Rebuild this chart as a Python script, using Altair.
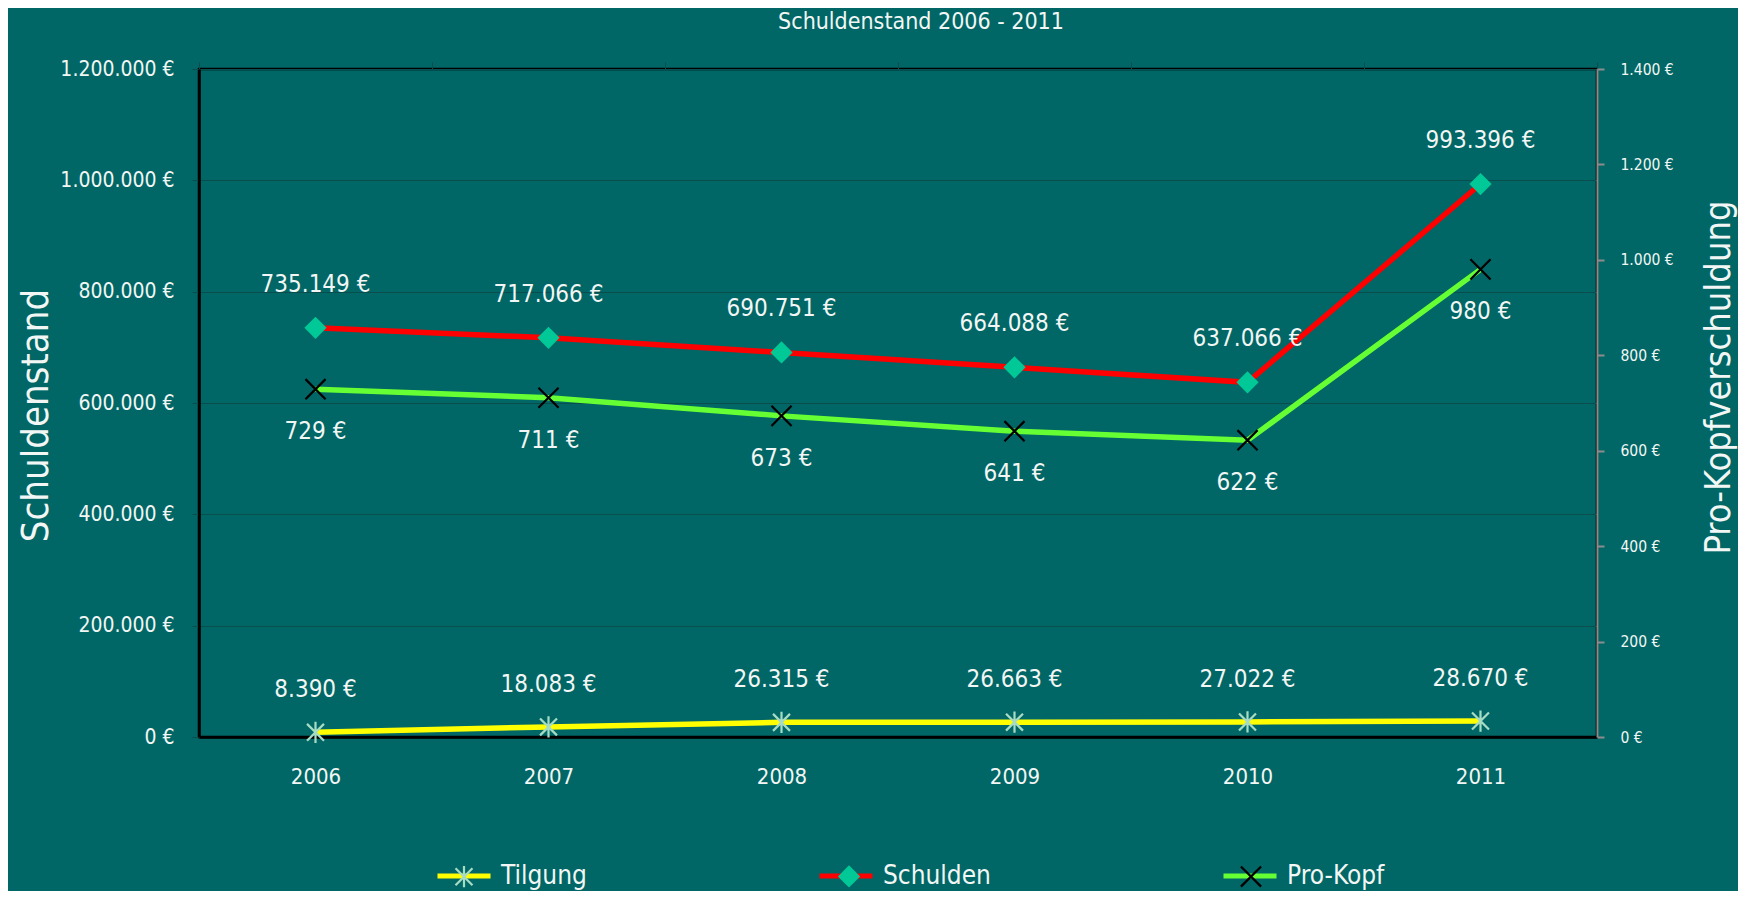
import math
import altair as alt
import pandas as pd

# ---------------- data ----------------
years = [2006, 2007, 2008, 2009, 2010, 2011]
tilgung = [8390, 18083, 26315, 26663, 27022, 28670]
schulden = [735149, 717066, 690751, 664088, 637066, 993396]
pro_kopf = [729, 711, 673, 641, 622, 980]

series_names = ["Tilgung", "Schulden", "Pro-Kopf"]
line_colors = ["#ffff00", "#ff0000", "#66ff33"]
marker_colors = ["#a6dcc4", "#00c896", "#000000"]

left_ticks = [0, 200000, 400000, 600000, 800000, 1000000, 1200000]
right_ticks = [0, 200, 400, 600, 800, 1000, 1200, 1400]
x_tick_bounds = [2005.5, 2006.5, 2007.5, 2008.5, 2009.5, 2010.5, 2011.5]

title_text = "Schuldenstand 2006 - 2011"
left_title = "Schuldenstand"
right_title = "Pro-Kopfverschuldung"


def eur(v):
    return f"{v:,}".replace(",", ".") + " €"


rows_left = []
for name, vals in [("Tilgung", tilgung), ("Schulden", schulden)]:
    for y, v in zip(years, vals):
        rows_left.append({"year": y, "series": name, "value": v, "label": eur(v)})
df_left = pd.DataFrame(rows_left)

df_right = pd.DataFrame(
    [{"year": y, "series": "Pro-Kopf", "value": v, "label": eur(v)} for y, v in zip(years, pro_kopf)]
)

# ---------------- style ----------------
BG = "#006666"
GRID = "#0a4d4d"
TXT = "#f2f6f4"
FONT = "DejaVu Sans Condensed, Liberation Sans Narrow, Liberation Sans, sans-serif"
SYM = 2809  # symbol box size (53px)
UNIT = math.sqrt(SYM) / 2
LEG_FS = 26
# rendered legend label widths (px) for the layout of the marker legend
label_px = [83.5, 100.5, 97]


def bar(x1, y1, x2, y2, t):
    dx, dy = x2 - x1, y2 - y1
    L = math.hypot(dx, dy)
    px, py = -dy / L * t, dx / L * t
    pts = [(x1 + px, y1 + py), (x2 + px, y2 + py), (x2 - px, y2 - py), (x1 - px, y1 - py)]
    return "M" + "L".join(f"{a:.3f},{b:.3f}" for a, b in pts) + "Z"


t = 0.042
asterisk = bar(0, -0.4, 0, 0.4, t) + bar(-0.32, -0.32, 0.32, 0.32, t) + bar(-0.32, 0.32, 0.32, -0.32, t)
diamond = "M0,-0.42L0.42,0L0,0.42L-0.42,0Z"
cross = bar(-0.38, -0.38, 0.38, 0.38, t) + bar(-0.38, 0.38, 0.38, -0.38, t)


def with_extent(path, w):
    # invisible move-to points so the marker legend entry spans the same width
    # as the line legend entry (line symbol + label)
    right = (32 + w) / UNIT
    return f"M-1,0M{right:.3f},0" + path


marker_paths = [with_extent(p, w) for p, w in zip([asterisk, diamond, cross], label_px)]

legend_common = dict(
    orient="none",
    legendX=236,
    legendY=778,
    direction="horizontal",
    title=None,
    symbolSize=SYM,
    symbolStrokeWidth=5,
    labelFont=FONT,
    labelFontSize=LEG_FS,
    labelColor=TXT,
    labelOffset=8,
    columnPadding=222,
    padding=0,
)
legend_lines = alt.Legend(symbolType="stroke", **legend_common)
legend_marks = alt.Legend(symbolStrokeColor="transparent", labelExpr="''", **legend_common)

xscale = alt.Scale(domain=[2005.5, 2011.5], nice=False, zero=False)
x_labels = alt.X(
    "year:Q",
    scale=xscale,
    axis=alt.Axis(
        values=years, format="d", ticks=False, grid=False, title=None,
        labelFont=FONT, labelFontSize=22, labelColor=TXT, labelPadding=29,
        domainColor="#000000", domainWidth=2.5,
    ),
)
x_ticks = alt.X(
    "year:Q",
    scale=xscale,
    axis=alt.Axis(
        values=x_tick_bounds, labels=False, ticks=True, tickSize=7, tickColor=GRID,
        tickWidth=1, domain=False, grid=False, title=None,
    ),
)

label_expr = "replace(format(datum.value, ','), regexp(',', 'g'), '.') + ' €'"

y_left = alt.Y(
    "value:Q",
    scale=alt.Scale(domain=[0, 1200000], nice=False, zero=True),
    axis=alt.Axis(
        values=left_ticks, labelExpr=label_expr, labelFont=FONT, labelFontSize=21,
        labelColor=TXT, labelPadding=18, tickSize=7, tickColor=GRID,
        domainColor="#000000", domainWidth=2.5, grid=True, gridColor=GRID, gridWidth=1.2,
        title=left_title, titleFont=FONT, titleFontSize=38, titleFontWeight="normal",
        titleColor=TXT, titleAngle=270, titleX=-163, titleY=346,
        titleBaseline="middle", titleAlign="center",
    ),
)
y_right = alt.Y(
    "value:Q",
    scale=alt.Scale(domain=[0, 1400], nice=False, zero=True),
    axis=alt.Axis(
        orient="right", values=right_ticks, labelExpr=label_expr, labelFont=FONT,
        labelFontSize=15.5, labelColor=TXT, labelPadding=16, tickSize=7,
        tickColor="#8c8c8c", tickWidth=2, domainColor="#8c8c8c", domainWidth=2, grid=False,
        title=right_title, titleFont=FONT, titleFontSize=36, titleFontWeight="normal",
        titleColor=TXT, titleAngle=270, titleX=121, titleY=308,
        titleBaseline="middle", titleAlign="center",
    ),
)

stroke_enc = alt.Stroke(
    "series:N", sort=series_names, scale=alt.Scale(range=line_colors), legend=legend_lines
)
color_enc = alt.Color(
    "series:N", scale=alt.Scale(domain=series_names, range=marker_colors), legend=legend_marks
)
shape_enc = alt.Shape(
    "series:N", scale=alt.Scale(domain=series_names, range=marker_paths), legend=legend_marks
)


def text_layer(name, dy):
    return (
        alt.Chart()
        .mark_text(dy=dy, font=FONT, fontSize=24, color=TXT, baseline="middle", align="center")
        .encode(text="label:N")
        .transform_filter(alt.datum.series == name)
    )


line_l = alt.Chart().mark_line(strokeWidth=5.5).encode(stroke=stroke_enc, detail="series:N")
point_l = alt.Chart().mark_point(filled=True, opacity=1, strokeWidth=0, size=SYM).encode(
    color=color_enc, shape=shape_enc
)
left_layer = alt.layer(
    line_l, point_l, text_layer("Tilgung", -42), text_layer("Schulden", -43), data=df_left
).encode(x=x_labels, y=y_left)

line_r = alt.Chart().mark_line(strokeWidth=5.5).encode(stroke=stroke_enc)
point_r = alt.Chart().mark_point(filled=True, opacity=1, strokeWidth=0, size=SYM).encode(
    color=color_enc, shape=shape_enc
)
right_layer = alt.layer(line_r, point_r, text_layer("Pro-Kopf", 43), data=df_right).encode(
    x=x_ticks, y=y_right
)

chart = (
    alt.layer(left_layer, right_layer)
    .resolve_scale(y="independent")
    .resolve_axis(x="independent", y="independent")
    .properties(
        width=1398,
        height=668,
        autosize=alt.AutoSizeParams(type="none"),
        padding={"left": 191, "top": 61, "right": 141, "bottom": 154},
        background=BG,
        title=alt.TitleParams(
            title_text, font=FONT, fontSize=23, fontWeight="normal", color=TXT,
            anchor="middle", frame="group", dx=23, offset=24,
        ),
    )
    .configure_view(stroke="#000000", strokeWidth=2.5)
)

chart.save("out.html", embed_options={"renderer": "svg", "actions": False})
